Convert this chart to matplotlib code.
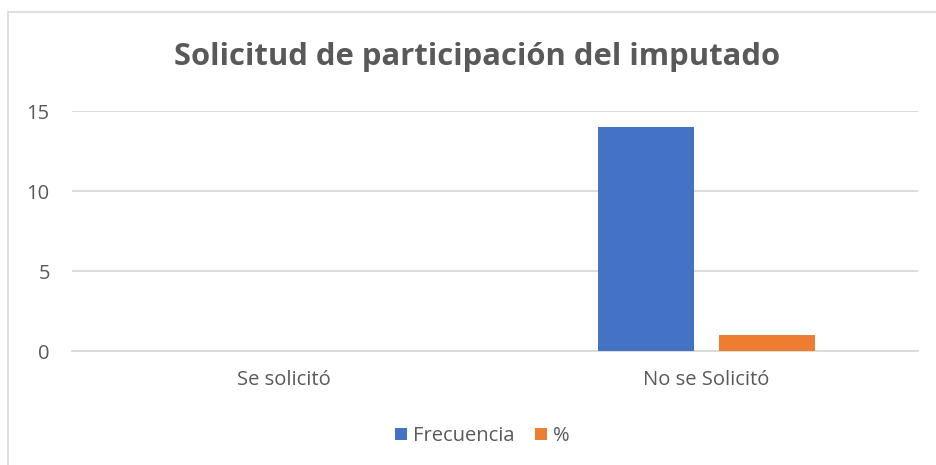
import numpy as np
import matplotlib.pyplot as plt
from matplotlib.patches import Rectangle

# DATA
categories = ['Se solicitó', 'No se Solicitó']
frecuencia = [0, 14]
porcentaje = [0, 1]
series_names = ['Frecuencia', '%']

# STYLE
plt.rcParams['font.family'] = ['Open Sans', 'DejaVu Sans']
text_col = '#595959'
grid_col = '#D9D9D9'
blue = '#4472C4'
orange = '#ED7D31'

fig = plt.figure(figsize=(9.37, 4.65), dpi=100)
ax = fig.add_axes([72/937, 1 - 351/465, (918 - 72)/937, (351 - 111)/465])

# chart border (cropped on right and bottom)
fig.patches.append(Rectangle((8/937, -0.1), 1.2, 0.1 + (1 - 12/465), transform=fig.transFigure,
                             fill=False, edgecolor=grid_col, linewidth=1.2))

x = np.arange(len(categories))
w = 0.227
off = 0.142
ax.bar(x - off, frecuencia, w, color=blue, label=series_names[0], zorder=3)
ax.bar(x + off, porcentaje, w, color=orange, label=series_names[1], zorder=3)

ax.set_xlim(-0.5, 1.5)
ax.set_ylim(0, 15)
ax.set_yticks([0, 5, 10, 15])
ax.set_xticks(x)
ax.set_xticklabels(categories)
ax.yaxis.grid(True, color=grid_col, linewidth=1.3, zorder=0)
for s in ['top', 'right', 'left']:
    ax.spines[s].set_visible(False)
ax.spines['bottom'].set_color(grid_col)
ax.spines['bottom'].set_linewidth(1.3)
ax.tick_params(axis='both', length=0, labelsize=14.5, labelcolor=text_col)
ax.tick_params(axis='y', pad=16)
ax.tick_params(axis='x', pad=14)

fig.text(477/937, 1 - 57/465, 'Solicitud de participación del imputado', ha='center', va='center',
         fontsize=22.3, fontweight='bold', color=text_col)

fig.legend(loc='center', bbox_to_anchor=(482/937, 1 - 436/465), ncol=2, frameon=False,
           fontsize=14.5, labelcolor=text_col, handlelength=0.6, handleheight=0.6,
           handletextpad=0.3, columnspacing=1.0)

fig.savefig('out.png', dpi=100)
